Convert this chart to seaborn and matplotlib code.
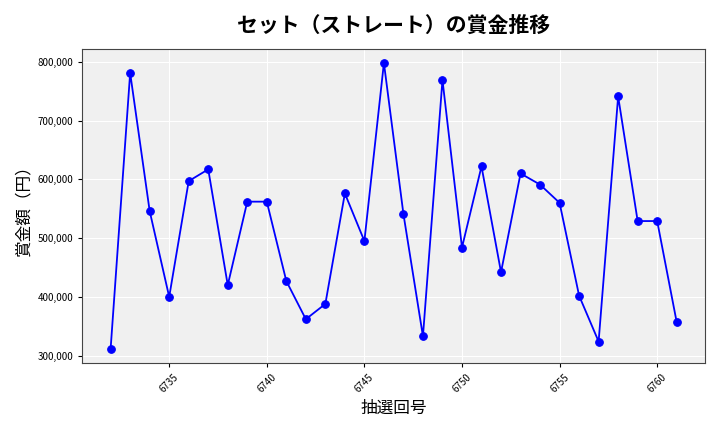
import matplotlib
matplotlib.use("Agg")
import matplotlib.pyplot as plt
import seaborn as sns
import pandas as pd
from matplotlib.ticker import FuncFormatter

draws = list(range(6732, 6762))
prizes = [312000, 781000, 546000, 400000, 597000, 617000, 420000, 562000, 562000, 427000,
          362000, 388000, 576000, 495000, 798000, 541000, 333000, 769000, 484000, 622000,
          442000, 610000, 591000, 560000, 402000, 324000, 741000, 529000, 529000, 357000]

df = pd.DataFrame({"draw": draws, "prize": prizes})

sns.set_style("darkgrid", {"axes.facecolor": "#f0f0f0", "grid.color": "white",
                           "text.color": "black", "axes.labelcolor": "black",
                           "xtick.color": "black", "ytick.color": "black",
                           "xtick.bottom": True, "ytick.left": True})
plt.rcParams['font.family'] = ['Noto Sans CJK JP', 'DejaVu Sans']

fig, ax = plt.subplots(figsize=(7.2, 4.32), dpi=100)
sns.lineplot(data=df, x="draw", y="prize", color="blue", marker="o",
             markersize=5.5, markeredgecolor="blue", linewidth=1.3, ax=ax)
ax.set_title("セット（ストレート）の賞金推移", fontsize=15, fontweight="bold", pad=12)
ax.set_xlabel("抽選回号", fontsize=12)
ax.set_ylabel("賞金額（円）", fontsize=12)
ax.yaxis.set_major_formatter(FuncFormatter(lambda v, p: f"{int(v):,}"))
ax.tick_params(axis="both", labelsize=7, length=3)
plt.setp(ax.get_xticklabels(), rotation=45)
for s in ax.spines.values():
    s.set_visible(True)
    s.set_color("#444444")
    s.set_linewidth(0.8)
fig.tight_layout()
fig.savefig("out.png")
